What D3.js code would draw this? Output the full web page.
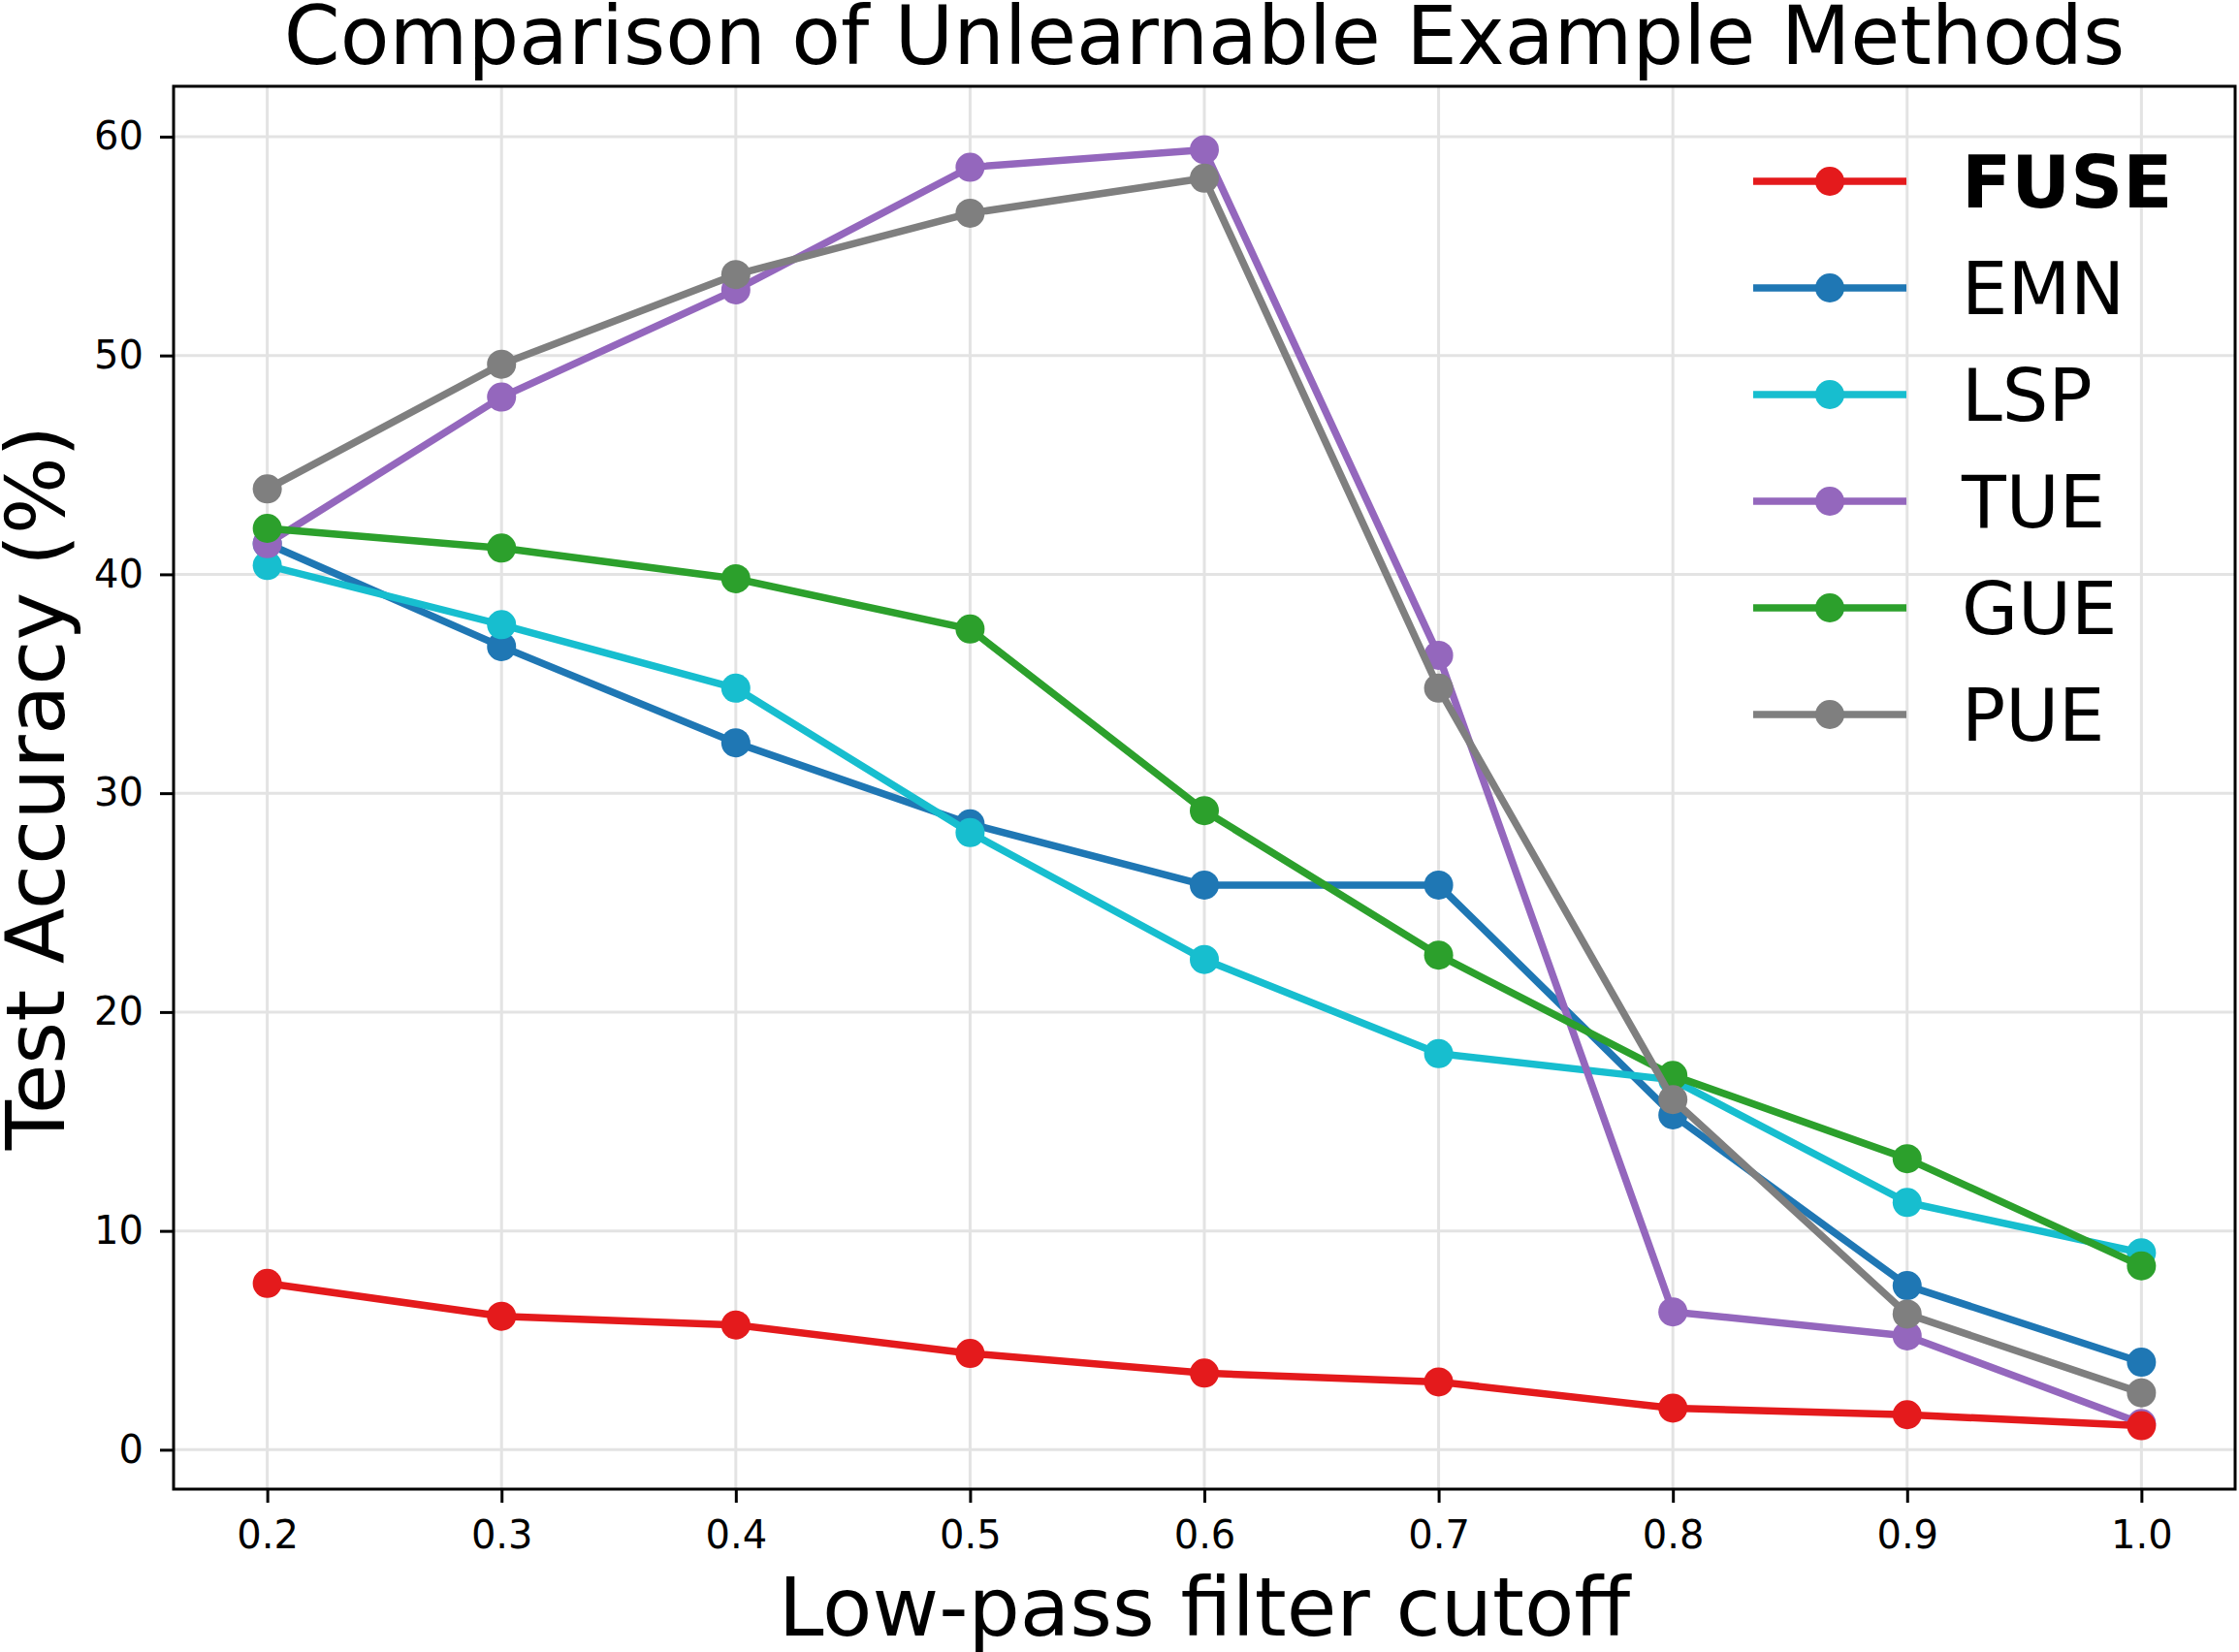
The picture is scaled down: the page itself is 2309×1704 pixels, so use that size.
<!DOCTYPE html>
<html>
<head>
<meta charset="utf-8">
<script src="https://cdn.jsdelivr.net/npm/d3@7"></script>
<style>
  body { margin: 0; background: #fff; }
  svg { display: block; font-family: "DejaVu Sans", sans-serif; }
</style>
</head>
<body>
<svg id="chart" width="2309" height="1704"></svg>
<script>
// data
var cutoffs = [0.2, 0.3, 0.4, 0.5, 0.6, 0.7, 0.8, 0.9, 1.0];
var xTicks = [0.2, 0.3, 0.4, 0.5, 0.6, 0.7, 0.8, 0.9, 1.0];
var yTicks = [0, 10, 20, 30, 40, 50, 60];

var fuse = [7.6, 6.1, 5.7, 4.4, 3.5, 3.1, 1.9, 1.6, 1.1];
var emn  = [41.4, 36.7, 32.3, 28.6, 25.8, 25.8, 15.3, 7.5, 4.0];
var lsp  = [40.4, 37.7, 34.8, 28.2, 22.4, 18.1, 16.9, 11.3, 9.0];
var tue  = [41.4, 48.1, 53.0, 58.6, 59.4, 36.3, 6.3, 5.2, 1.2];
var gue  = [42.1, 41.2, 39.8, 37.5, 29.2, 22.6, 17.1, 13.3, 8.4];
var pue  = [43.9, 49.6, 53.7, 56.5, 58.1, 34.8, 16.0, 6.2, 2.6];

var seriesNames = ["FUSE", "EMN", "LSP", "TUE", "GUE", "PUE"];
var seriesValues = [fuse, emn, lsp, tue, gue, pue];
var seriesColors = ["#e41a1c", "#1f77b4", "#17becf", "#9467bd", "#2ca02c", "#7f7f7f"];

(function() {
// svg parameters
var svg = d3.select("#chart"),
    pLeft = 179, pRight = 2305, pTop = 89, pBottom = 1536;

var x = d3.scaleLinear().domain([0.16, 1.04]).range([pLeft, pRight]),
    y = d3.scaleLinear().domain([-1.8, 62.3]).range([pBottom, pTop]);

// grid
var grid = svg.append("g").attr("stroke", "#e3e3e3").attr("stroke-width", 3);
grid.selectAll(".gx").data(xTicks).enter().append("line")
  .attr("x1", function(d) { return x(d); }).attr("x2", function(d) { return x(d); })
  .attr("y1", pTop).attr("y2", pBottom);
grid.selectAll(".gy").data(yTicks).enter().append("line")
  .attr("y1", function(d) { return y(d); }).attr("y2", function(d) { return y(d); })
  .attr("x1", pLeft).attr("x2", pRight);

// lines, FUSE drawn last so it sits on top
var order = [1, 2, 3, 4, 5, 0];
var line = d3.line()
  .x(function(d, i) { return x(cutoffs[i]); })
  .y(function(d) { return y(d); });

order.forEach(function(k) {
  var g = svg.append("g");
  g.append("path")
    .attr("d", line(seriesValues[k]))
    .attr("fill", "none")
    .attr("stroke", seriesColors[k])
    .attr("stroke-width", 7.5)
    .attr("stroke-linejoin", "round")
    .attr("stroke-linecap", "square");
  g.selectAll("circle").data(seriesValues[k]).enter().append("circle")
    .attr("cx", function(d, i) { return x(cutoffs[i]); })
    .attr("cy", function(d) { return y(d); })
    .attr("r", 15)
    .attr("fill", seriesColors[k]);
});

// frame
svg.append("rect")
  .attr("x", pLeft).attr("y", pTop)
  .attr("width", pRight - pLeft).attr("height", pBottom - pTop)
  .attr("fill", "none").attr("stroke", "#000").attr("stroke-width", 3);

// axes
var gx = svg.append("g")
  .attr("transform", "translate(0," + pBottom + ")")
  .call(d3.axisBottom(x).tickValues(xTicks).tickFormat(d3.format(".1f"))
    .tickSize(14).tickSizeOuter(0).tickPadding(19));
var gy = svg.append("g")
  .attr("transform", "translate(" + pLeft + ",0)")
  .call(d3.axisLeft(y).tickValues(yTicks).tickFormat(d3.format("d"))
    .tickSize(14).tickSizeOuter(0).tickPadding(17));
[gx, gy].forEach(function(a) {
  a.select(".domain").remove();
  a.selectAll(".tick line").attr("stroke", "#000").attr("stroke-width", 3);
  a.selectAll(".tick text").attr("fill", "#000")
    .style("font-size", "40px").style("font-family", "DejaVu Sans");
});

// title and labels
svg.append("text")
  .attr("x", (pLeft + pRight) / 2).attr("y", 66)
  .attr("text-anchor", "middle")
  .style("font-size", "83px")
  .text("Comparison of Unlearnable Example Methods");
svg.append("text")
  .attr("x", (pLeft + pRight) / 2).attr("y", 1687)
  .attr("text-anchor", "middle")
  .style("font-size", "84px")
  .text("Low-pass filter cutoff");
svg.append("text")
  .attr("transform", "translate(66," + (pTop + pBottom) / 2 + ") rotate(-90)")
  .attr("text-anchor", "middle")
  .style("font-size", "84px")
  .text("Test Accuracy (%)");

// legend
var legend = svg.append("g");
seriesNames.forEach(function(name, i) {
  var ly = 187 + i * 110;
  legend.append("line")
    .attr("x1", 1808).attr("x2", 1966).attr("y1", ly).attr("y2", ly)
    .attr("stroke", seriesColors[i]).attr("stroke-width", 7.5);
  legend.append("circle")
    .attr("cx", 1887).attr("cy", ly).attr("r", 15)
    .attr("fill", seriesColors[i]);
  legend.append("text")
    .attr("x", 2023).attr("y", ly + 27)
    .style("font-size", "75px")
    .style("font-weight", i === 0 ? "bold" : "normal")
    .text(name);
});
})();
</script>
</body>
</html>
